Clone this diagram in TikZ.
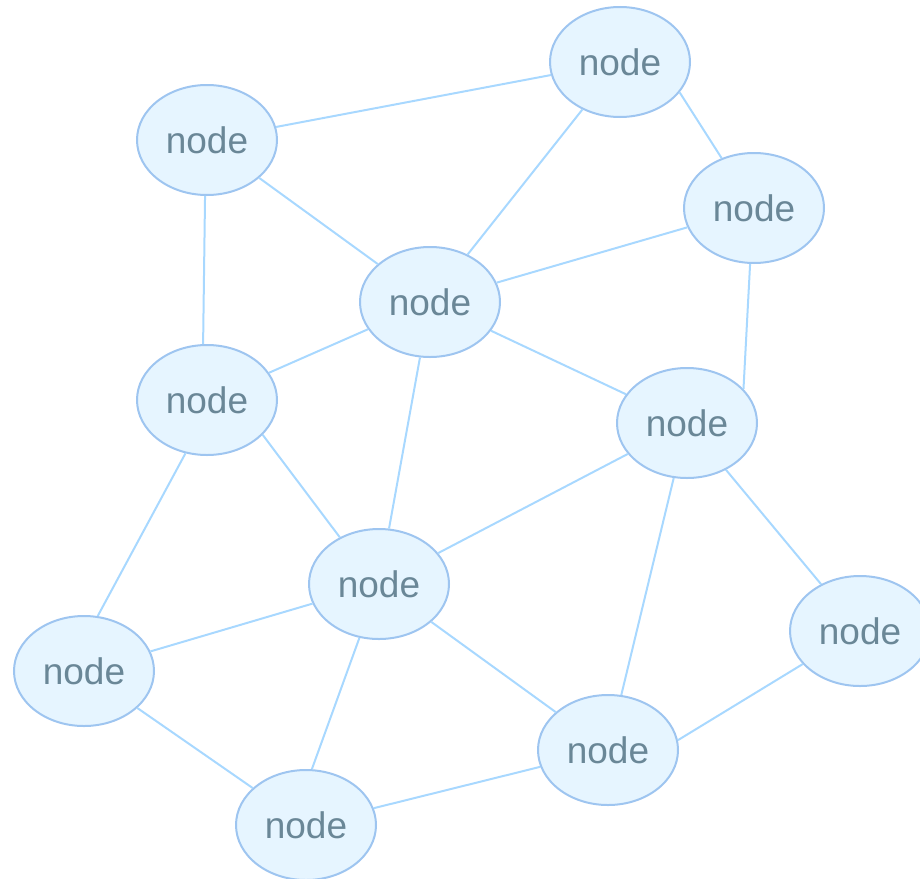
\documentclass[tikz,border=0pt]{standalone}
\usepackage{fontspec}
\setmainfont{Liberation Sans}
\usetikzlibrary{shapes.geometric}
\definecolor{nodefill}{HTML}{E6F5FF}
\definecolor{nodeborder}{HTML}{9EC5F0}
\definecolor{edgecol}{HTML}{A8D8FF}
\definecolor{labelcol}{HTML}{6A8797}
\tikzset{
  vertex/.style={ellipse, draw=nodeborder, fill=nodefill, line width=2pt,
    minimum width=140pt, minimum height=110pt, inner sep=0pt,
    text=labelcol, font=\fontsize{37}{44}\selectfont},
  link/.style={draw=edgecol, line width=2pt}
}
\begin{document}
\begin{tikzpicture}[x=1pt,y=-1pt]
\useasboundingbox (0,0) rectangle (920,878);
\clip (0,0) rectangle (920,878);
\node[vertex] (a) at (620,62) {node};
\node[vertex] (b) at (207,140) {node};
\node[vertex] (c) at (754,208) {node};
\node[vertex] (d) at (430,302) {node};
\node[vertex] (e) at (207,400) {node};
\node[vertex] (f) at (687,423) {node};
\node[vertex] (g) at (379,584) {node};
\node[vertex] (h) at (860,631) {node};
\node[vertex] (i) at (84,671) {node};
\node[vertex] (j) at (608,750) {node};
\node[vertex] (k) at (306,825) {node};
% straight links between node borders
\foreach \u/\v in {b/a,a/d,b/d,c/d,d/e,d/f,d/g,f/g,f/j,f/h,g/i,g/j,i/k,k/j}
  \draw[link] (\u) -- (\v);
% links leaving at fixed border angles
\draw[link] (a.-27) -- (c.123);
\draw[link] (b.-92) -- (e.94);
\draw[link] (c.-94) -- (f.31);
\draw[link] (e.-32) -- (g.130);
\draw[link] (e.-112) -- (i.76);
\draw[link] (g.-110) -- (k.84);
\draw[link] (j.8) -- (h.-150);
\end{tikzpicture}
\end{document}
